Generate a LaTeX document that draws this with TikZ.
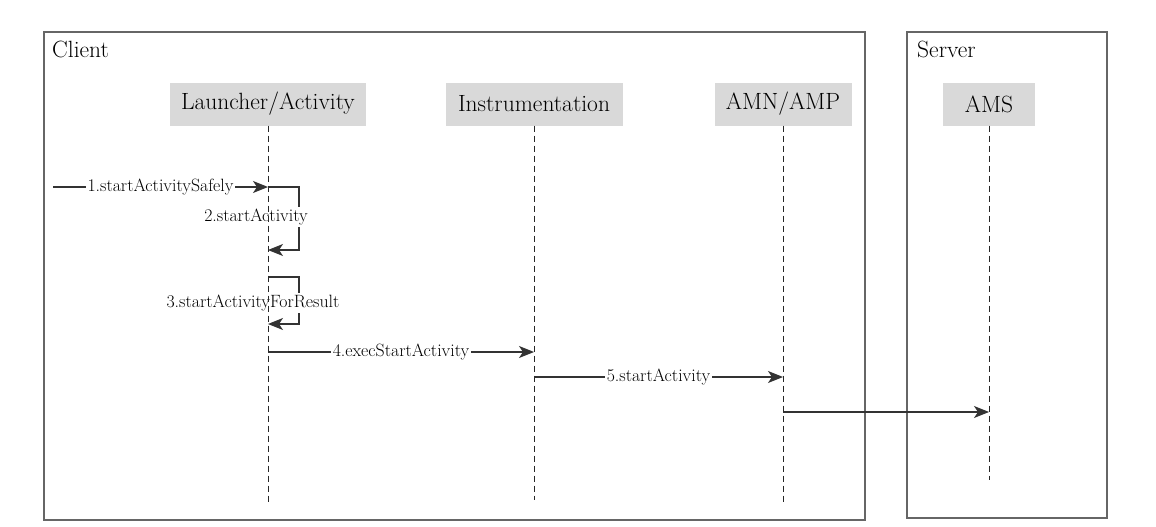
\documentclass[tikz,border=0pt]{standalone}
\usepackage{fontspec}
\usepackage{tikz}
\usetikzlibrary{arrows.meta, positioning, calc}

\begin{document}
\begin{tikzpicture}[
    x=1pt, y=-1pt,
    actor/.style={rectangle, fill=gray!30, text=black, font=\fontsize{23.5}{27}\selectfont, minimum height=43pt, inner xsep=10pt},
    frame/.style={draw=black!60, line width=1.3pt},
    title/.style={anchor=base west, inner sep=0pt, text=black, font=\fontsize{23.5}{27}\selectfont},
    lifeline/.style={draw=black!85, line width=1pt, dash pattern=on 6pt off 4pt},
    msg/.style={-{Stealth[length=15pt, width=12pt, inset=4pt]}, draw=black!80, line width=1.2pt},
    lbl/.style={fill=white, inner sep=1.5pt, text=black, font=\fontsize{17.8}{20}\selectfont}
]
    \useasboundingbox (0,0) rectangle (1156,527);

    % Frames
    \draw[frame] (44,32) rectangle (865,520);
    \draw[frame] (907,32) rectangle (1107,518);
    \node[title] (client) at (52,57) {Client};
    \node[title] (server) at (917,57) {Server};

    % Actors
    \node[actor, minimum width=196pt] (launcher) at (268,104) {Launcher/Activity};
    \node[actor, minimum width=177pt] (instr) at (534,104) {Instrumentation};
    \node[actor, minimum width=137pt] (amn) at (783,104) {AMN/AMP};
    \node[actor, minimum width=92pt] (ams) at (989,104) {AMS};

    % Points on the lifelines
    \coordinate (start) at (53,187);
    \coordinate (m1) at (launcher.south |- 0,187);
    \coordinate (m2) at (launcher.south |- 0,250);
    \coordinate (m3a) at (launcher.south |- 0,277);
    \coordinate (m3b) at (launcher.south |- 0,324);
    \coordinate (m4a) at (launcher.south |- 0,352);
    \coordinate (m4b) at (instr.south |- 0,352);
    \coordinate (m5a) at (instr.south |- 0,377);
    \coordinate (m5b) at (amn.south |- 0,377);
    \coordinate (m6a) at (amn.south |- 0,412);
    \coordinate (m6b) at (ams.south |- 0,412);

    % Messages
    \draw[msg] (start) -- node[lbl] {1.startActivitySafely} (m1);
    \draw[msg] (m1) -- ++(31,0) |- (m2);
    \node[lbl] (l2) at (256,217) {2.startActivity};
    \draw[msg] (m3a) -- ++(31,0) |- (m3b);
    \node[lbl] (l3) at (253,303) {3.startActivityForResult};
    \draw[msg] (m4a) -- node[lbl] {4.execStartActivity} (m4b);
    \draw[msg] (m5a) -- node[lbl] {5.startActivity} (m5b);
    \draw[msg] (m6a) -- (m6b);

    % Lifelines
    \draw[lifeline] (launcher.south) -- (launcher.south |- 0,503);
    \draw[lifeline] (instr.south) -- (instr.south |- 0,500);
    \draw[lifeline] (amn.south) -- (amn.south |- 0,505);
    \draw[lifeline] (ams.south) -- (ams.south |- 0,480);
\end{tikzpicture}
\end{document}
